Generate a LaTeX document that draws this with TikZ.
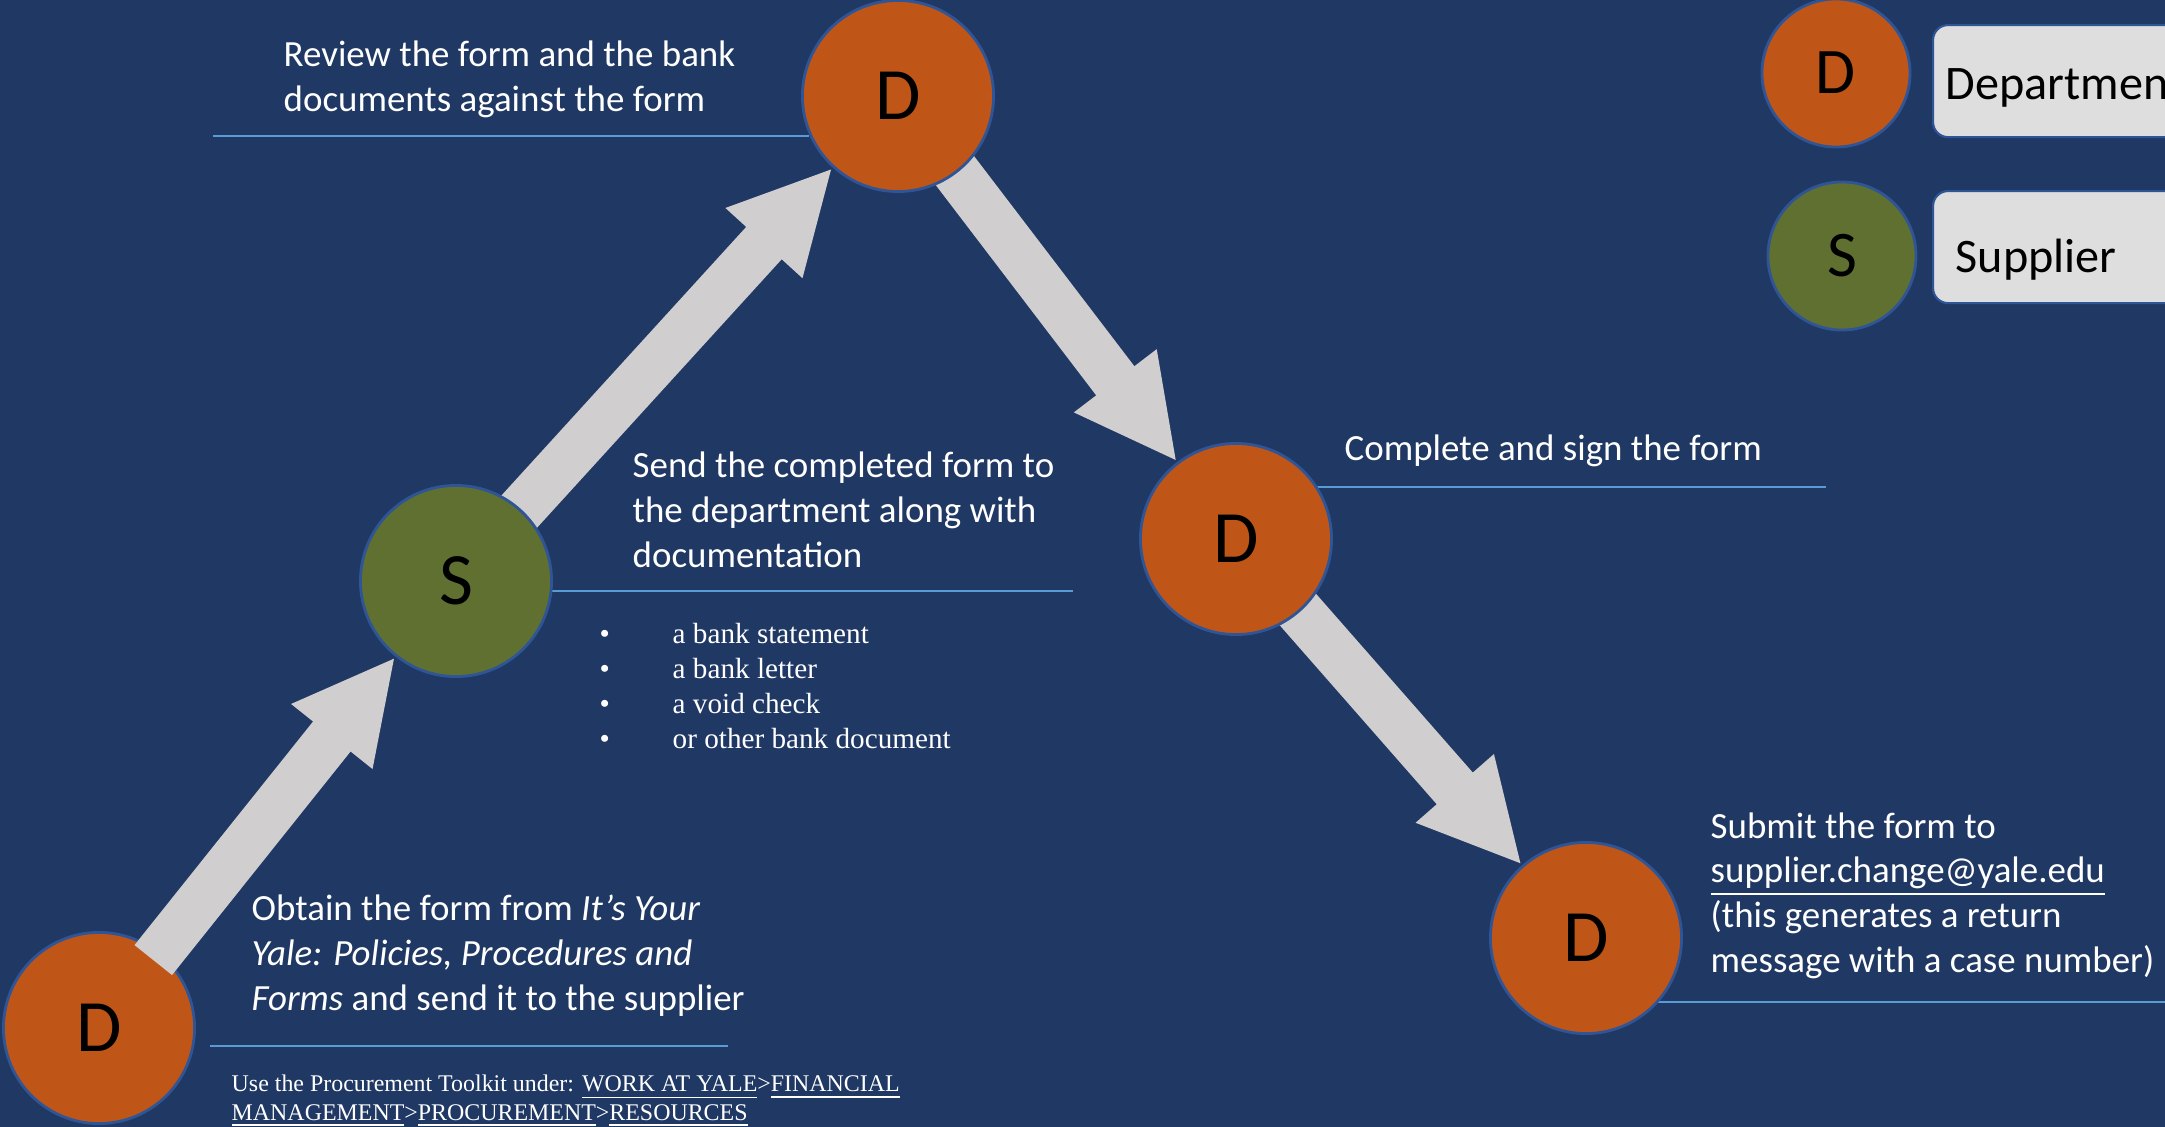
\documentclass[tikz,border=0pt]{standalone}
\usepackage{fontspec}
\setmainfont{Carlito}
\newfontfamily\serifface{Liberation Serif}
\usepackage{tikz}
\usetikzlibrary{arrows.meta, backgrounds}

\definecolor{slidebg}{HTML}{203864}
\definecolor{deptfill}{HTML}{C05518}
\definecolor{suppfill}{HTML}{607030}
\definecolor{rimblue}{HTML}{2F5597}
\definecolor{flowgray}{HTML}{D0CECE}
\definecolor{linecolor}{HTML}{5B9BD5}
\definecolor{keyfill}{HTML}{DEDEDE}

\begin{document}
\begin{tikzpicture}[
    x=0.01cm, y=-0.01cm,
    actor/.style={
        circle, draw=rimblue, line width=0.8pt, text=black,
        minimum size=1.91cm, inner sep=0pt,
        font=\fontsize{21}{24}\selectfont,
    },
    dept/.style={actor, fill=deptfill},
    supp/.style={actor, fill=suppfill},
    keydot/.style={actor, minimum size=1.48cm, font=\fontsize{18.5}{22}\selectfont},
    keybox/.style={
        rectangle, rounded corners=0.15cm, fill=keyfill, draw=rimblue,
        line width=0.6pt, minimum width=3cm, minimum height=1.12cm,
        anchor=north west,
    },
    keytext/.style={anchor=base west, inner sep=0pt, text=black,
        font=\fontsize{13.7}{16}\selectfont},
    flowarrow/.style={
        draw=flowgray, line width=0.48cm, shorten <=-0.1cm,
        -{Triangle[width=0.96cm, length=1.02cm]},
    },
    % base anchor of a multi-line note sits on its last line
    stepnote/.style={
        anchor=base west, align=left, inner sep=0pt, text=white,
        font=\fontsize{10.5}{12.7}\selectfont,
    },
    noteline/.style={draw=linecolor, line width=0.6pt},
    listitem/.style={anchor=base west, inner sep=0pt, text=white,
        font=\serifface\fontsize{8.3}{10}\selectfont},
    pathhint/.style={anchor=base west, align=left, inner sep=0pt, text=white,
        font=\serifface\fontsize{6.8}{7.97}\selectfont},
]

% ── Slide background ───────────────────────────────────────────────────────
\begin{scope}[on background layer]
    \fill[slidebg] (0,0) rectangle (2165,1127);
\end{scope}
\useasboundingbox (0,0) rectangle (2165,1127);
\clip (0,0) rectangle (2165,1127);

% ── Rules under the step texts ─────────────────────────────────────────────
\draw[noteline] (213,136)   -- (809,136);
\draw[noteline] (210,1046)  -- (728,1046);
\draw[noteline] (552,591)   -- (1073,591);
\draw[noteline] (1308,487)  -- (1826,487);
\draw[noteline] (1651,1002) -- (2165,1002);

% ── Process circles ────────────────────────────────────────────────────────
\node[dept] (d1) at (99,1028)  {D};
\node[supp] (s1) at (456,581)  {S};
\node[dept] (d2) at (898,96)   {D};
\node[dept] (d3) at (1236,539) {D};
\node[dept] (d4) at (1586,938) {D};

% ── Block arrows ───────────────────────────────────────────────────────────
\draw[flowarrow] (d1) -- (s1);
\begin{scope}[on background layer]
    \draw[flowarrow] (s1) -- (d2);
    \draw[flowarrow] (d2) -- (d3);
    \draw[flowarrow] (d3) -- (d4);
\end{scope}

% ── Step texts ─────────────────────────────────────────────────────────────
\node[stepnote] (t1) at (251,1010) {Obtain the form from \textit{It’s Your}\\
    \textit{Yale: Policies, Procedures and}\\
    \textit{Forms} and send it to the supplier};

\node[pathhint] (tk) at (231,1120) {Use the Procurement Toolkit under:
    \underline{WORK AT YALE}>\underline{FINANCIAL}\\
    \underline{MANAGEMENT}>\underline{PROCUREMENT}>\underline{RESOURCES}};

\node[stepnote] (t2) at (632,567) {Send the completed form to\\
    the department along with\\
    documentation};

\def\dotX{599}
\def\itemX{672}
\def\itemY{643}
\def\itemH{35}

\node[listitem] (p1) at (\dotX, \itemY)          {•};
\node[listitem] (i1) at (\itemX, \itemY)         {a bank statement};
\node[listitem] (p2) at (\dotX, \itemY+\itemH)   {•};
\node[listitem] (i2) at (\itemX, \itemY+\itemH)  {a bank letter};
\node[listitem] (p3) at (\dotX, \itemY+2*\itemH) {•};
\node[listitem] (i3) at (\itemX, \itemY+2*\itemH) {a void check};
\node[listitem] (p4) at (\dotX, \itemY+3*\itemH) {•};
\node[listitem] (i4) at (\itemX, \itemY+3*\itemH) {or other bank document};

\node[stepnote] (t3) at (283,111) {Review the form and the bank\\
    documents against the form};

\node[stepnote] (t4) at (1344,460) {Complete and sign the form};

\node[stepnote] (t5) at (1710,972) {Submit the form to\\
    \underline{supplier.change@yale.edu}\\
    (this generates a return\\
    message with a case number)};

% ── Legend ─────────────────────────────────────────────────────────────────
\node[keydot, fill=deptfill] (kd) at (1836,73)  {D};
\node[keydot, fill=suppfill] (ks) at (1842,256) {S};

\node[keybox] (kdbox) at (1932,24)  {};
\node[keytext] (kdlab) at (1945,99) {Department};
\node[keybox] (ksbox) at (1932,190) {};
\node[keytext] (kslab) at (1955,272) {Supplier};

\end{tikzpicture}
\end{document}
